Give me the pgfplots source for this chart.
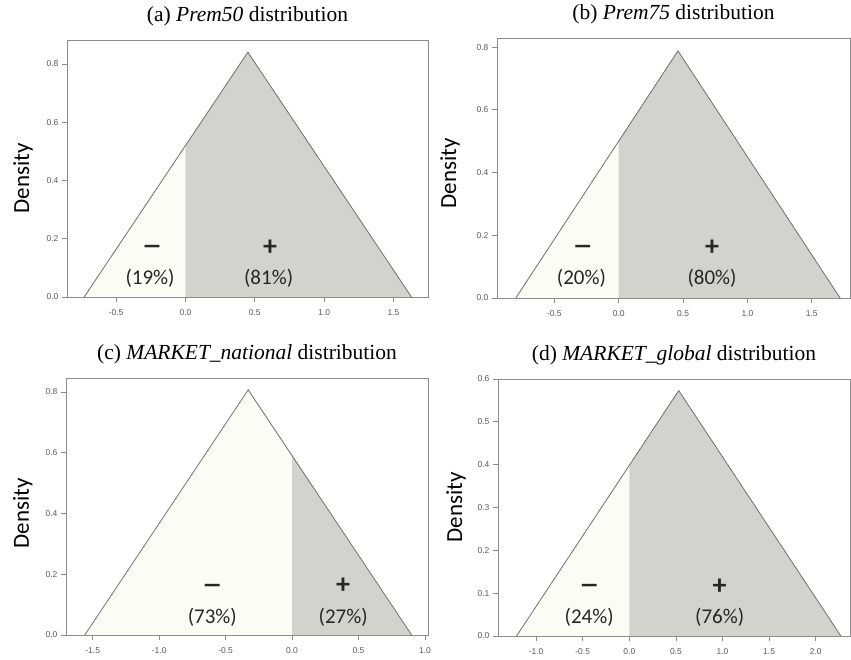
\documentclass[border=0pt]{standalone}
\usepackage{fontspec}
\usepackage{graphicx}
\setmainfont{Liberation Serif}
\newfontfamily\calfont{Carlito}
\newfontfamily\arialfont{Liberation Sans}
\usepackage{pgfplots}
\pgfplotsset{compat=1.18}
\definecolor{ivory}{RGB}{252,252,246}
\definecolor{shade}{RGB}{210,210,207}
\definecolor{framec}{RGB}{140,140,140}
\definecolor{edgec}{RGB}{110,110,110}
\newcommand{\mns}{\scalebox{1.5}[1]{–}}
\pgfplotsset{
 rpanel/.style={
  scale only axis, anchor=south west,
  axis line style={framec, line width=0.8pt},
  tick align=outside, xtick pos=lower, ytick pos=left,
  major tick length=5pt,
  tick style={framec, line width=0.7pt},
  ymin=0,
  ticklabel style={font=\arialfont\fontsize{8.5}{9}\selectfont, text=black!65},
  xticklabel style={yshift=-4pt},
  ylabel={Density},
  ylabel style={font=\calfont\fontsize{23}{26}\selectfont, anchor=center},
  title style={font=\fontsize{21.5}{24}\selectfont, at={(axis description cs:0.5,1)}, anchor=base, yshift=12pt},
 },
 ylab/.style 2 args={ylabel style={at={(axis description cs:#1,#2)}}},
}
\tikzset{
 sgn/.style={font=\calfont\bfseries\fontsize{28}{30}\selectfont, text=black!85},
 pct/.style={font=\calfont\fontsize{21}{24}\selectfont, text=black!85},
}
\begin{document}
\begin{tikzpicture}
\useasboundingbox (0,0) rectangle (851pt,660pt);
% (a)
\begin{axis}[rpanel, at={(67pt,363pt)}, width=361pt, height=257pt,
  xmin=-0.854, xmax=1.749, ymax=0.882, ylab={-0.122}{0.461},
  xtick={-0.5,0,0.5,1,1.5}, xticklabels={-0.5,0.0,0.5,1.0,1.5},
  ytick={0,0.2,0.4,0.6,0.8}, yticklabels={0.0,0.2,0.4,0.6,0.8},
  title={(a) \textit{Prem50} distribution}]
\addplot[fill=ivory, draw=none] coordinates {(-0.73,0) (0,0.5197)} \closedcycle;
\addplot[fill=shade, draw=none] coordinates {(0,0.5197) (0.45,0.84) (1.63,0)} \closedcycle;
\addplot[edgec, line width=0.8pt] coordinates {(-0.73,0) (0.45,0.84) (1.63,0)};
\node[sgn] at (axis cs:-0.24,0.160) {\mns};
\node[pct] at (axis cs:-0.255,0.065) {(19\%)};
\node[sgn] at (axis cs:0.61,0.168) {+};
\node[pct] at (axis cs:0.60,0.065) {(81\%)};
\end{axis}
% (b)
\begin{axis}[rpanel, at={(497pt,362pt)}, width=353pt, height=260pt,
  xmin=-0.946, xmax=1.797, ymax=0.829, ylab={-0.133}{0.48},
  xtick={-0.5,0,0.5,1,1.5}, xticklabels={-0.5,0.0,0.5,1.0,1.5},
  ytick={0,0.2,0.4,0.6,0.8}, yticklabels={0.0,0.2,0.4,0.6,0.8},
  title={(b) \textit{Prem75} distribution}]
\addplot[fill=ivory, draw=none] coordinates {(-0.80,0) (0,0.500)} \closedcycle;
\addplot[fill=shade, draw=none] coordinates {(0,0.500) (0.46,0.788) (1.72,0)} \closedcycle;
\addplot[edgec, line width=0.8pt] coordinates {(-0.80,0) (0.46,0.788) (1.72,0)};
\node[sgn] at (axis cs:-0.28,0.152) {\mns};
\node[pct] at (axis cs:-0.29,0.064) {(20\%)};
\node[sgn] at (axis cs:0.725,0.159) {+};
\node[pct] at (axis cs:0.725,0.064) {(80\%)};
\end{axis}
% (c)
\begin{axis}[rpanel, at={(66pt,25pt)}, width=362pt, height=257pt,
  xmin=-1.701, xmax=1.023, ymax=0.846, ylab={-0.119}{0.473},
  xtick={-1.5,-1,-0.5,0,0.5,1}, xticklabels={-1.5,-1.0,-0.5,0.0,0.5,1.0},
  ytick={0,0.2,0.4,0.6,0.8}, yticklabels={0.0,0.2,0.4,0.6,0.8},
  title={(c) \textit{MARKET\_national} distribution}]
\addplot[fill=ivory, draw=none] coordinates {(-1.56,0) (-0.33,0.807) (0,0.5905)} \closedcycle;
\addplot[fill=shade, draw=none] coordinates {(0,0.5905) (0.90,0)} \closedcycle;
\addplot[edgec, line width=0.8pt] coordinates {(-1.56,0) (-0.33,0.807) (0.90,0)};
\node[sgn] at (axis cs:-0.60,0.153) {\mns};
\node[pct] at (axis cs:-0.60,0.059) {(73\%)};
\node[sgn] at (axis cs:0.385,0.161) {+};
\node[pct] at (axis cs:0.385,0.059) {(27\%)};
\end{axis}
% (d)
\begin{axis}[rpanel, at={(498pt,24pt)}, width=352pt, height=257pt,
  xmin=-1.409, xmax=2.368, ymax=0.6, ylab={-0.119}{0.5},
  xtick={-1,-0.5,0,0.5,1,1.5,2}, xticklabels={-1.0,-0.5,0.0,0.5,1.0,1.5,2.0},
  ytick={0,0.1,0.2,0.3,0.4,0.5,0.6}, yticklabels={0.0,0.1,0.2,0.3,0.4,0.5,0.6},
  title={(d) \textit{MARKET\_global} distribution}]
\addplot[fill=ivory, draw=none] coordinates {(-1.21,0) (0,0.3985)} \closedcycle;
\addplot[fill=shade, draw=none] coordinates {(0,0.3985) (0.53,0.573) (2.27,0)} \closedcycle;
\addplot[edgec, line width=0.8pt] coordinates {(-1.21,0) (0.53,0.573) (2.27,0)};
\node[sgn] at (axis cs:-0.43,0.109) {\mns};
\node[pct] at (axis cs:-0.43,0.0436) {(24\%)};
\node[sgn] at (axis cs:0.97,0.115) {+};
\node[pct] at (axis cs:0.97,0.0436) {(76\%)};
\end{axis}
\end{tikzpicture}
\end{document}
